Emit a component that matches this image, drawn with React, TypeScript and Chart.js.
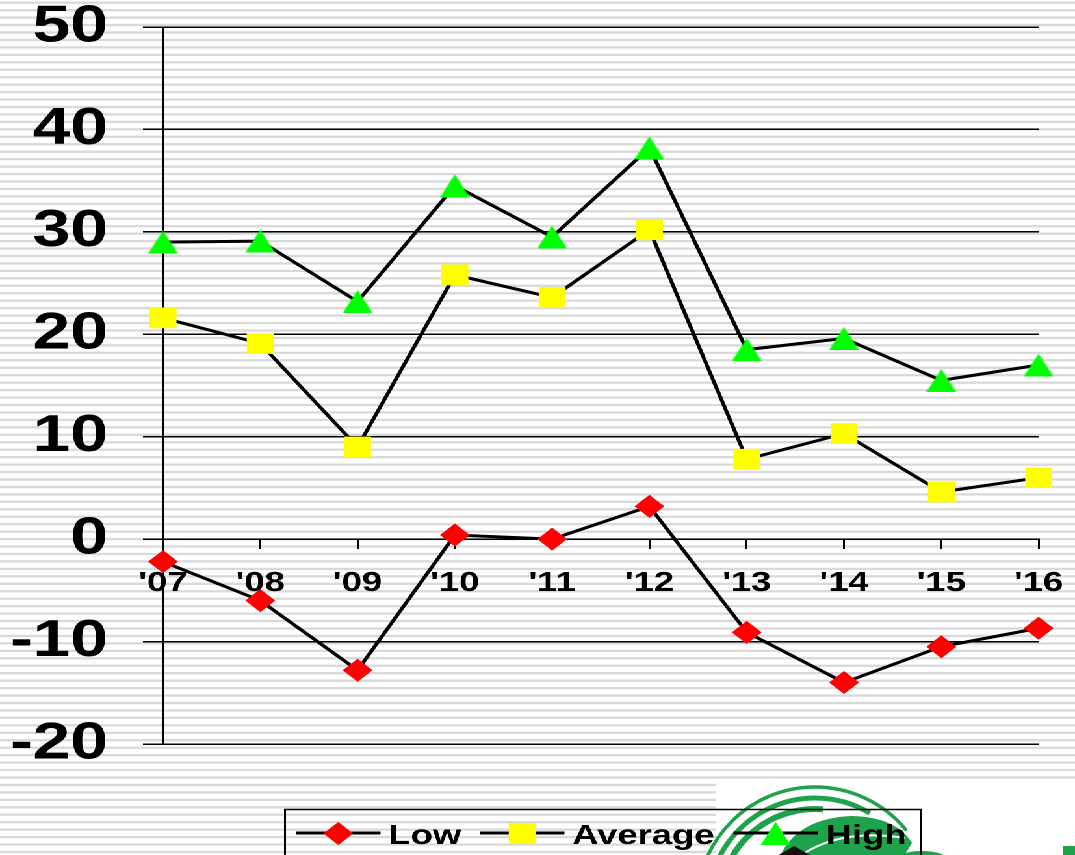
import React, { useEffect, useRef } from 'react';
import { Chart, registerables } from 'chart.js';

Chart.register(...registerables);

// ---- data ----
const years = ["'07", "'08", "'09", "'10", "'11", "'12", "'13", "'14", "'15", "'16"];
const lowValues = [-2.2, -6.0, -12.8, 0.4, 0.0, 3.2, -9.1, -14.0, -10.5, -8.7];
const averageValues = [21.6, 19.1, 9.0, 25.8, 23.6, 30.2, 7.8, 10.3, 4.6, 6.0];
const highValues = [29.0, 29.1, 23.2, 34.5, 29.5, 38.2, 18.5, 19.6, 15.5, 17.0];
const yTickValues = [-20, -10, 0, 10, 20, 30, 40, 50];
const seriesNames = ['Low', 'Average', 'High'];
const seriesColors = ['#ff0000', '#ffff00', '#00ff00'];

// ---- page geometry: the chart is drawn narrow and widened with a CSS stretch ----
const PAGE_W = 1075;
const CANVAS_W = 827;
const CANVAS_H = 855;
const SX = PAGE_W / CANVAS_W;
const px = (pageX: number) => pageX / SX;

const FONT = '"Liberation Sans", Arial, sans-serif';
const TRI = 23; // triangle marker size (chart units)

function triangleCanvas(scale: number): HTMLCanvasElement {
  const c = document.createElement('canvas');
  c.width = Math.round(TRI * scale);
  c.height = Math.round(TRI * scale);
  const g = c.getContext('2d') as CanvasRenderingContext2D;
  g.fillStyle = seriesColors[2];
  g.beginPath();
  g.moveTo(c.width / 2, 0);
  g.lineTo(c.width, c.height);
  g.lineTo(0, c.height);
  g.closePath();
  g.fill();
  return c;
}

function drawMarker(ctx: CanvasRenderingContext2D, kind: number, x: number, y: number) {
  ctx.fillStyle = seriesColors[kind];
  ctx.beginPath();
  if (kind === 0) {
    const r = 11.5;
    ctx.moveTo(x - r, y);
    ctx.lineTo(x, y - r);
    ctx.lineTo(x + r, y);
    ctx.lineTo(x, y + r);
  } else if (kind === 1) {
    const s = 20.7;
    ctx.rect(x - s / 2, y - s / 2, s, s);
  } else {
    ctx.moveTo(x, y - TRI / 2);
    ctx.lineTo(x + TRI / 2, y + TRI / 2);
    ctx.lineTo(x - TRI / 2, y + TRI / 2);
  }
  ctx.closePath();
  ctx.fill();
}

// company badge in the lower right corner (page coordinates)
function drawBadge(ctx: CanvasRenderingContext2D) {
  ctx.save();
  ctx.scale(1 / SX, 1);
  ctx.fillStyle = '#ffffff';
  ctx.fillRect(716, 782, PAGE_W - 716, CANVAS_H - 782);
  const green = '#1ea34c';
  ctx.strokeStyle = green;
  const cx = 815;
  const cy = 905;
  const rings: [number, number, number][] = [
    [118, 3.5, 5.6],
    [107, 5, 5.25],
    [96, 6, 4.8],
  ];
  rings.forEach(([r, w, end]) => {
    ctx.lineWidth = w;
    ctx.beginPath();
    ctx.arc(cx, cy, r, Math.PI, end);
    ctx.stroke();
  });
  // leaf
  ctx.fillStyle = green;
  ctx.beginPath();
  ctx.moveTo(780, 856);
  ctx.quadraticCurveTo(798, 818, 852, 816);
  ctx.quadraticCurveTo(896, 817, 912, 843);
  ctx.lineTo(904, 856);
  ctx.closePath();
  ctx.fill();
  // vein
  ctx.strokeStyle = '#ffffff';
  ctx.lineWidth = 2;
  ctx.beginPath();
  ctx.moveTo(800, 856);
  ctx.quadraticCurveTo(840, 828, 905, 838);
  ctx.stroke();
  ctx.fillStyle = green;
  ctx.beginPath();
  ctx.ellipse(922, 860, 26, 9, 0, 0, Math.PI * 2);
  ctx.fill();
  ctx.fillRect(1063, 846, 12, 10);
  // dark letter peeking in at the bottom edge
  ctx.fillStyle = '#111111';
  ctx.beginPath();
  ctx.moveTo(794, 846);
  ctx.lineTo(812, 856);
  ctx.lineTo(777, 856);
  ctx.closePath();
  ctx.fill();
  ctx.restore();
}

const backgroundPlugin = {
  id: 'stripedBackground',
  beforeDraw(chart: any) {
    const ctx: CanvasRenderingContext2D = chart.ctx;
    ctx.save();
    ctx.fillStyle = '#ffffff';
    ctx.fillRect(0, 0, chart.width, chart.height);
    ctx.fillStyle = '#d9d9d9';
    for (let y = 2.7; y < chart.height + 3; y += 7.45) {
      ctx.fillRect(0, y - 1.15, chart.width, 2.3);
    }
    drawBadge(ctx);
    ctx.restore();
  },
};

const keyPlugin = {
  id: 'seriesKey',
  afterDraw(chart: any) {
    const ctx: CanvasRenderingContext2D = chart.ctx;
    const left = px(285);
    const right = px(921);
    const top = 809.5;
    const lineY = 833;
    ctx.save();
    ctx.strokeStyle = '#000000';
    ctx.lineWidth = 1.5;
    ctx.strokeRect(left, top, right - left, 90);
    ctx.font = `bold 28px ${FONT}`;
    ctx.textBaseline = 'alphabetic';
    ctx.textAlign = 'left';
    let x = left + 8.5;
    chart.data.datasets.forEach((ds: any, i: number) => {
      ctx.strokeStyle = '#000000';
      ctx.lineWidth = 3;
      ctx.beginPath();
      ctx.moveTo(x, lineY);
      ctx.lineTo(x + 65, lineY);
      ctx.stroke();
      drawMarker(ctx, i, x + 32.5, lineY + 0.5);
      ctx.fillStyle = '#000000';
      ctx.fillText(ds.label, x + 71, 844);
      x += 71 + ctx.measureText(ds.label).width + 14.5;
    });
    ctx.restore();
  },
};

export default function App() {
  const canvasRef = useRef<HTMLCanvasElement | null>(null);

  useEffect(() => {
    const canvas = canvasRef.current;
    if (!canvas) return;
    let cancelled = false;

    const lineSet = {
      borderColor: '#000000',
      borderWidth: 3,
      pointBorderWidth: 0,
      tension: 0,
      fill: false,
      clip: false,
    };

    const chart = new Chart(canvas, {
      type: 'line',
      data: {
        labels: years,
        datasets: [
          {
            ...lineSet,
            label: seriesNames[0],
            data: lowValues,
            pointStyle: 'rectRot',
            pointRadius: 11.5,
            pointBackgroundColor: seriesColors[0],
            pointBorderColor: seriesColors[0],
          },
          {
            ...lineSet,
            label: seriesNames[1],
            data: averageValues,
            pointStyle: 'rect',
            pointRadius: 14.64,
            pointBackgroundColor: seriesColors[1],
            pointBorderColor: seriesColors[1],
          },
          {
            ...lineSet,
            label: seriesNames[2],
            data: highValues,
            pointStyle: triangleCanvas(1),
            pointRadius: 12,
            pointBackgroundColor: seriesColors[2],
            pointBorderColor: seriesColors[2],
          },
        ],
      } as any,
      options: {
        responsive: false,
        devicePixelRatio: 2,
        animation: false,
        events: [],
        layout: { padding: { left: 0, top: 27, right: 28, bottom: 111 } },
        plugins: {
          legend: { display: false },
          tooltip: { enabled: false },
        },
        scales: {
          x: {
            type: 'category',
            position: { y: 0 },
            offset: false,
            afterFit: (scale: any) => {
              scale.paddingLeft = 0;
              scale.paddingRight = 0;
            },
            grid: {
              drawOnChartArea: false,
              drawTicks: true,
              tickLength: 9,
              color: '#000000',
              lineWidth: 1.5,
            },
            border: { display: true, color: '#000000', width: 1.5 },
            ticks: {
              color: '#000000',
              font: { family: FONT, size: 28, weight: 'bold', lineHeight: 1 },
              padding: 21,
              maxRotation: 0,
              autoSkip: false,
            },
          },
          y: {
            min: -20,
            max: 50,
            afterBuildTicks: (scale: any) => {
              scale.ticks = yTickValues.map((v) => ({ value: v }));
            },
            afterFit: (scale: any) => {
              scale.width = px(163);
              scale.paddingTop = 0;
              scale.paddingBottom = 0;
            },
            grid: {
              color: '#000000',
              lineWidth: 1.5,
              drawTicks: true,
              tickLength: px(20),
            },
            border: { display: true, color: '#000000', width: 1.5 },
            ticks: {
              color: '#000000',
              font: { family: FONT, size: 52, weight: 'bold', lineHeight: 1 },
              padding: 27,
            },
          },
        },
      } as any,
      plugins: [backgroundPlugin, keyPlugin],
    });

    // sharper triangle once the high-resolution bitmap is ready
    const img = new Image();
    img.width = TRI;
    img.height = TRI;
    img.src = triangleCanvas(4).toDataURL();
    img
      .decode()
      .then(() => {
        if (cancelled) return;
        (chart.data.datasets[2] as any).pointStyle = img;
        chart.update('none');
      })
      .catch(() => {});

    return () => {
      cancelled = true;
      chart.destroy();
    };
  }, []);

  return (
    <div
      style={{
        position: 'fixed',
        left: 0,
        top: 0,
        width: CANVAS_W,
        height: CANVAS_H,
        transform: `scaleX(${SX})`,
        transformOrigin: '0 0',
        background: '#ffffff',
      }}
    >
      <canvas ref={canvasRef} width={CANVAS_W} height={CANVAS_H} style={{ display: 'block' }} />
    </div>
  );
}
